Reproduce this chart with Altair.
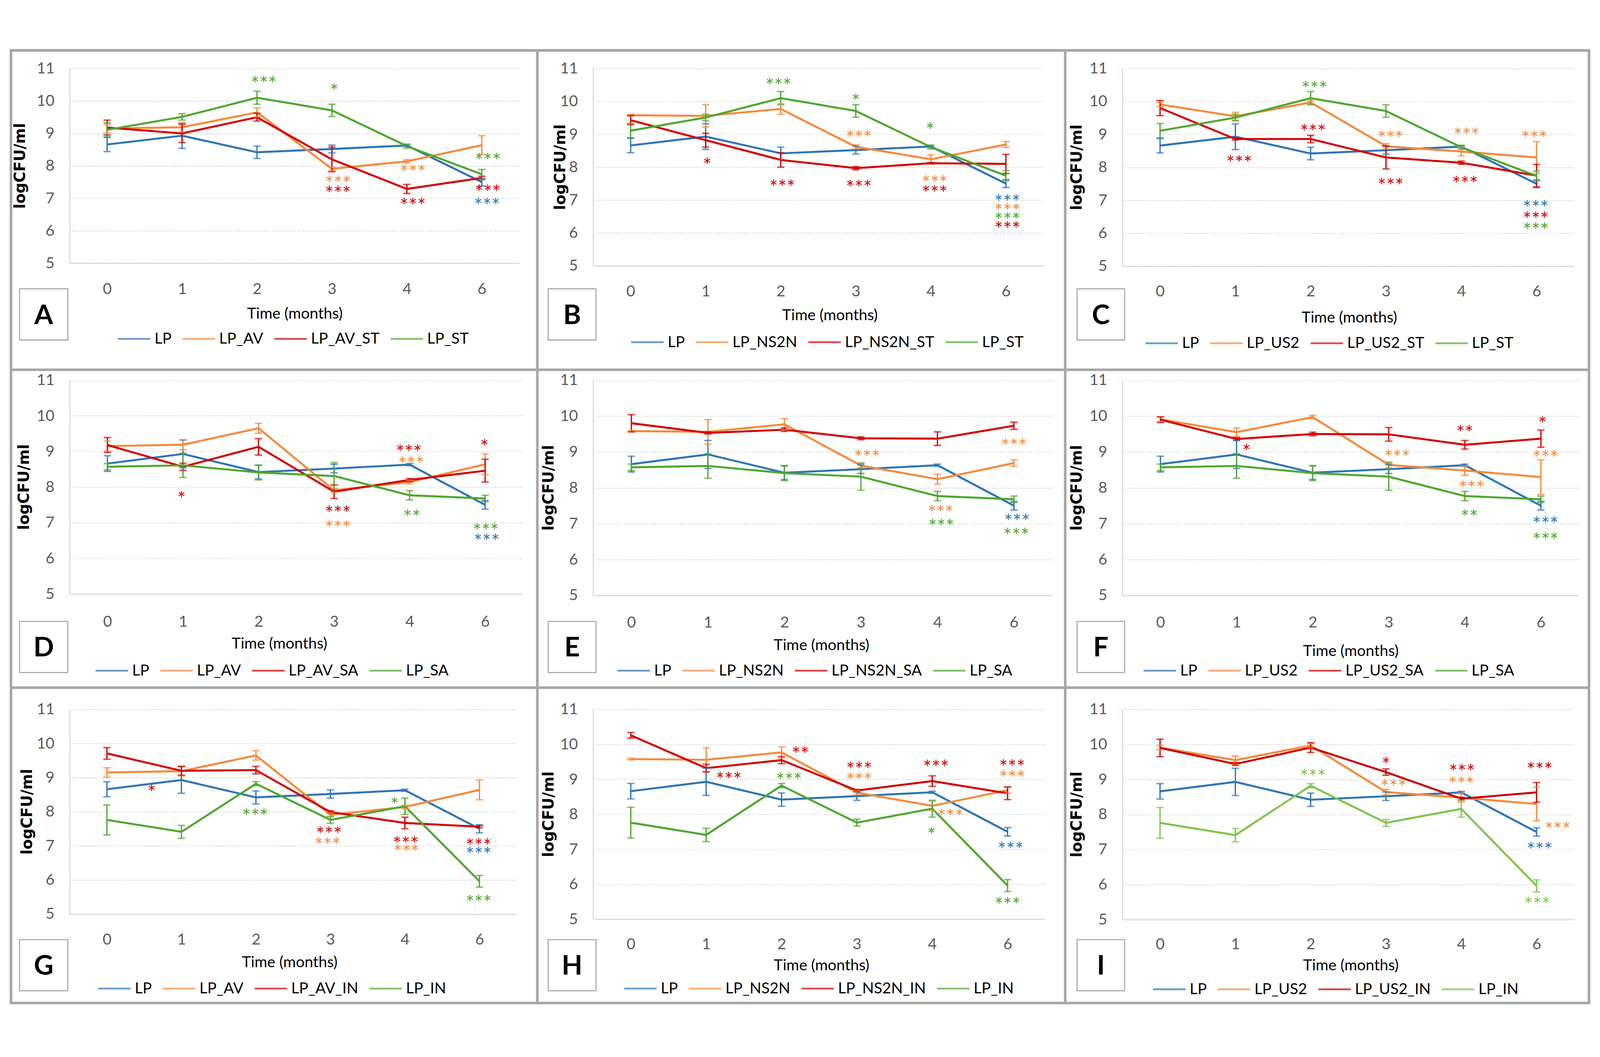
import json
import altair as alt
import pandas as pd

months = ["0", "1", "2", "3", "4", "6"]

# ---- series means (logCFU/ml) and error bar half-widths ----
LP = [8.66, 8.93, 8.42, 8.52, 8.63, 7.50]
LP_err = [0.22, 0.39, 0.19, 0.12, 0.03, 0.12]
LP_ST = [9.11, 9.51, 10.10, 9.71, 8.61, 7.74]
LP_ST_err = [0.22, 0.10, 0.20, 0.19, 0.06, 0.15]
LP_AV = [9.15, 9.19, 9.65, 7.91, 8.14, 8.64]
LP_AV_err = [0.14, 0.14, 0.14, 0.05, 0.05, 0.29]
LP_AV_ST = [9.18, 9.00, 9.50, 8.20, 7.29, 7.63]
LP_AV_ST_err = [0.23, 0.28, 0.12, 0.38, 0.14, 0.05]
LP_NS2N = [9.58, 9.56, 9.77, 8.62, 8.24, 8.69]
LP_NS2N_err = [0.02, 0.34, 0.16, 0.06, 0.14, 0.09]
LP_NS2N_ST = [9.43, 8.82, 8.22, 7.97, 8.12, 8.10]
LP_NS2N_ST_err = [0.14, 0.21, 0.22, 0.05, 0.02, 0.29]
LP_US2 = [9.91, 9.55, 9.97, 8.64, 8.48, 8.30]
LP_US2_err = [0.06, 0.12, 0.05, 0.08, 0.13, 0.48]
LP_US2_ST = [9.80, 8.86, 8.86, 8.30, 8.14, 7.75]
LP_US2_ST_err = [0.23, 0.03, 0.11, 0.35, 0.05, 0.34]
LP_SA = [8.57, 8.61, 8.41, 8.31, 7.77, 7.68]
LP_SA_err = [0.09, 0.34, 0.21, 0.38, 0.13, 0.09]
LP_AV_SA = [9.18, 8.57, 9.13, 7.87, 8.20, 8.46]
LP_AV_SA_err = [0.21, 0.10, 0.23, 0.19, 0.04, 0.32]
LP_NS2N_SA = [9.80, 9.53, 9.62, 9.38, 9.37, 9.73]
LP_NS2N_SA_err = [0.24, 0.03, 0.05, 0.04, 0.19, 0.10]
LP_US2_SA = [9.90, 9.36, 9.50, 9.49, 9.20, 9.37]
LP_US2_SA_err = [0.08, 0.04, 0.05, 0.19, 0.12, 0.24]
LP_IN = [7.76, 7.41, 8.82, 7.76, 8.16, 5.96]
LP_IN_err = [0.44, 0.19, 0.06, 0.10, 0.24, 0.17]
LP_AV_IN = [9.71, 9.20, 9.22, 7.99, 7.67, 7.56]
LP_AV_IN_err = [0.17, 0.13, 0.11, 0.04, 0.17, 0.03]
LP_NS2N_IN = [10.26, 9.32, 9.55, 8.68, 8.95, 8.60]
LP_NS2N_IN_err = [0.08, 0.11, 0.10, 0.03, 0.15, 0.18]
LP_US2_IN = [9.90, 9.44, 9.91, 9.21, 8.45, 8.63]
LP_US2_IN_err = [0.25, 0.04, 0.14, 0.09, 0.04, 0.28]

values = {
    "LP": (LP, LP_err), "LP_ST": (LP_ST, LP_ST_err), "LP_AV": (LP_AV, LP_AV_err),
    "LP_AV_ST": (LP_AV_ST, LP_AV_ST_err), "LP_NS2N": (LP_NS2N, LP_NS2N_err),
    "LP_NS2N_ST": (LP_NS2N_ST, LP_NS2N_ST_err), "LP_US2": (LP_US2, LP_US2_err),
    "LP_US2_ST": (LP_US2_ST, LP_US2_ST_err), "LP_SA": (LP_SA, LP_SA_err),
    "LP_AV_SA": (LP_AV_SA, LP_AV_SA_err), "LP_NS2N_SA": (LP_NS2N_SA, LP_NS2N_SA_err),
    "LP_US2_SA": (LP_US2_SA, LP_US2_SA_err), "LP_IN": (LP_IN, LP_IN_err),
    "LP_AV_IN": (LP_AV_IN, LP_AV_IN_err), "LP_NS2N_IN": (LP_NS2N_IN, LP_NS2N_IN_err),
    "LP_US2_IN": (LP_US2_IN, LP_US2_IN_err),
}

letters = ["A", "B", "C", "D", "E", "F", "G", "H", "I"]
panel_series = {
    "A": ["LP", "LP_AV", "LP_AV_ST", "LP_ST"],
    "B": ["LP", "LP_NS2N", "LP_NS2N_ST", "LP_ST"],
    "C": ["LP", "LP_US2", "LP_US2_ST", "LP_ST"],
    "D": ["LP", "LP_AV", "LP_AV_SA", "LP_SA"],
    "E": ["LP", "LP_NS2N", "LP_NS2N_SA", "LP_SA"],
    "F": ["LP", "LP_US2", "LP_US2_SA", "LP_SA"],
    "G": ["LP", "LP_AV", "LP_AV_IN", "LP_IN"],
    "H": ["LP", "LP_NS2N", "LP_NS2N_IN", "LP_IN"],
    "I": ["LP", "LP_US2", "LP_US2_IN", "LP_IN"],
}
x_title = "Time (months)"
y_title = "logCFU/ml"

# significance marks: (text, series index in panel, x position index, y value)
annotations = {
    "A": [("***", 3, 2.09, 10.68), ("*", 3, 3.03, 10.45), ("***", 1, 3.08, 7.61),
          ("***", 2, 3.08, 7.30), ("***", 1, 4.08, 7.95), ("***", 2, 4.08, 6.93),
          ("***", 3, 5.08, 8.31), ("***", 2, 5.08, 7.33), ("***", 0, 5.07, 6.93)],
    "B": [("***", 3, 1.97, 10.62), ("*", 3, 3.00, 10.15), ("*", 3, 3.99, 9.27),
          ("*", 2, 1.02, 8.20), ("***", 1, 3.04, 9.03), ("***", 2, 2.02, 7.54),
          ("***", 2, 3.04, 7.52), ("***", 1, 4.05, 7.67), ("***", 2, 4.05, 7.36),
          ("***", 0, 5.02, 7.09), ("***", 1, 5.02, 6.81), ("***", 3, 5.02, 6.54),
          ("***", 2, 5.02, 6.26)],
    "C": [("***", 3, 2.05, 10.53), ("***", 2, 1.05, 8.28), ("***", 2, 2.03, 9.23),
          ("***", 1, 3.06, 9.03), ("***", 2, 3.06, 7.59), ("***", 1, 4.07, 9.12),
          ("***", 2, 4.05, 7.65), ("***", 1, 4.97, 9.03), ("***", 0, 4.99, 6.92),
          ("***", 2, 4.99, 6.57), ("***", 3, 4.99, 6.24)],
    "D": [("*", 2, 0.98, 7.80), ("***", 2, 3.05, 7.40), ("***", 1, 3.05, 6.98),
          ("***", 2, 3.99, 9.11), ("***", 1, 4.02, 8.78), ("**", 3, 4.03, 7.29),
          ("*", 2, 4.99, 9.26), ("***", 3, 5.01, 6.91), ("***", 0, 5.02, 6.61)],
    "E": [("***", 1, 3.08, 8.98), ("***", 1, 4.04, 7.43), ("***", 3, 4.05, 7.05),
          ("***", 1, 5.00, 9.30), ("***", 0, 5.04, 7.20), ("***", 3, 5.03, 6.80)],
    "F": [("*", 2, 1.13, 9.14), ("***", 1, 3.11, 8.98), ("**", 2, 4.00, 9.67),
          ("***", 1, 4.09, 8.12), ("**", 3, 4.06, 7.32), ("*", 2, 5.02, 9.92),
          ("***", 1, 5.06, 8.97), ("***", 0, 5.06, 7.12), ("***", 3, 5.06, 6.67)],
    "G": [("*", 2, 0.60, 8.71), ("***", 3, 1.99, 8.01), ("***", 2, 2.98, 7.48),
          ("***", 1, 2.96, 7.16), ("*", 3, 3.86, 8.34), ("***", 2, 4.01, 7.19),
          ("***", 1, 4.02, 6.95), ("***", 2, 4.99, 7.14), ("***", 0, 4.99, 6.89),
          ("***", 3, 4.99, 5.48)],
    "H": [("**", 2, 2.25, 9.86), ("***", 2, 1.30, 9.13), ("***", 3, 2.10, 9.11),
          ("***", 2, 3.03, 9.42), ("***", 1, 3.03, 9.11), ("***", 2, 4.05, 9.48),
          ("***", 1, 4.24, 8.07), ("*", 3, 3.99, 7.54), ("***", 2, 5.06, 9.49),
          ("***", 1, 5.06, 9.17), ("***", 0, 5.04, 7.13), ("***", 3, 5.00, 5.55)],
    "I": [("***", 3, 2.03, 9.21), ("*", 2, 3.00, 9.56), ("***", 1, 3.10, 8.92),
          ("***", 2, 4.01, 9.36), ("***", 1, 4.00, 9.00), ("***", 2, 5.04, 9.41),
          ("***", 1, 5.28, 7.71), ("***", 0, 5.04, 7.13), ("***", 3, 5.01, 5.56)],
}

# ---- styling ----
BLUE, ORANGE, RED, GREEN, LGREEN = "#2e75b6", "#f7893a", "#d40000", "#4ea72e", "#7cc44e"
panel_colors = {k: [BLUE, ORANGE, RED, GREEN] for k in letters}
panel_colors["I"] = [BLUE, ORANGE, "#c80000", LGREEN]
BORDER = "#a6a6a6"
BT = 7
FONT = "Lato"
SYM = 36
SWATCH_PATH = "M-1,0H3.94"

# ---- layout in page pixels (absolute), converted to each panel's plot origin ----
COL_X = [190, 1622, 3070]
ROW_Y = [95, 948, 1849]
SP_COL, SP_ROW = 192, 312
CELL_X = [(26, 1466), (1466, 2910), (2910, 4350)]
CELL_Y = [(42, 916), (916, 1786), (1786, 2656)]
PAGE_MARGIN = 8
SVG_W, SVG_H = 4360, 2680
geo = {
    "A": dict(W=1230, H=533, xl=696, yt=56, xt=(806, 766), lg=(319, 835), box=(53, 185, 698, 838)),
    "B": dict(W=1232, H=540, xl=702, yt=1534, xt=(2270, 771), lg=(1723, 844), box=(1499, 1630, 698, 838)),
    "C": dict(W=1236, H=541, xl=702, yt=2947, xt=(3691, 777), lg=(3130, 847), box=(2946, 3076, 698, 838)),
    "D": dict(W=1240, H=585, xl=1606, yt=66, xt=(764, 1670), lg=(258, 1743), box=(53, 185, 1608, 1748)),
    "E": dict(W=1256, H=589, xl=1608, yt=1502, xt=(2247, 1674), lg=(1686, 1743), box=(1499, 1630, 1608, 1748)),
    "F": dict(W=1249, H=589, xl=1608, yt=2947, xt=(3695, 1690), lg=(3125, 1743), box=(2946, 3076, 1608, 1748)),
    "G": dict(W=1223, H=560, xl=2476, yt=75, xt=(792, 2541), lg=(265, 2613), box=(53, 185, 2479, 2619)),
    "H": dict(W=1237, H=574, xl=2489, yt=1502, xt=(2247, 2550), lg=(1704, 2613), box=(1499, 1630, 2479, 2619)),
    "I": dict(W=1236, H=575, xl=2489, yt=2947, xt=(3695, 2550), lg=(3151, 2615), box=(2946, 3076, 2479, 2619)),
}

one = pd.DataFrame({"k": [0]})


def deco_rect(x1, x2, y1, y2, **kw):
    return alt.Chart(one).mark_rect(**kw).encode(
        x=alt.value(x1), x2=alt.value(x2), y=alt.value(y1), y2=alt.value(y2))


def label_text(txt, x, y, **kw):
    return alt.Chart(one).mark_text(**kw).encode(
        x=alt.value(x), y=alt.value(y), text=alt.value(txt))


def panel(pos, key):
    g = geo[key]
    r, c = divmod(pos, 3)
    ox, oy = COL_X[c], ROW_Y[r]
    W, H = g["W"], g["H"]
    names = panel_series[key]
    cols = panel_colors[key]
    cscale = alt.Scale(domain=names, range=cols)
    xs = alt.Scale(domain=[-0.5, 5.5], nice=False, zero=False)
    ys = alt.Scale(domain=[5, 11], nice=False, zero=False)

    rows = []
    for si, s in enumerate(names):
        v, e = values[s]
        for i in range(6):
            rows.append(dict(series=s, hex=cols[si], idx=i, value=v[i],
                             lo=v[i] - e[i], hi=v[i] + e[i]))
    df = pd.DataFrame(rows)
    ann = pd.DataFrame([dict(txt=t, hex=cols[si], px=x, py=y) for t, si, x, y in annotations[key]])

    x_axis = alt.Axis(values=list(range(6)), labelExpr=json.dumps(months) + "[datum.value]",
                      grid=False, ticks=False, domainColor="#d9d9d9", domainWidth=3,
                      labelPadding=g["xl"] - (oy + H) - 17, labelFont=FONT, labelFontSize=42,
                      labelColor="#595959", labelFlush=False, labelOverlap=False, title=None)
    y_axis = alt.Axis(values=[5, 6, 7, 8, 9, 10, 11], grid=True, gridColor="#cfcfcf",
                      gridDash=[3, 4], gridWidth=2.5, ticks=False, domainColor="#d9d9d9",
                      domainWidth=3, labelPadding=42, labelFont=FONT, labelFontSize=42,
                      labelColor="#595959", labelFlush=False, labelOverlap=False, title=None)
    legend = alt.Legend(orient="none", legendX=g["lg"][0] - ox, legendY=g["lg"][1] - oy - 21,
                        direction="horizontal", columns=4, title=None, symbolType=SWATCH_PATH,
                        symbolStrokeWidth=5, symbolSize=SYM * SYM, labelFont=FONT,
                        labelFontSize=42, labelColor="black", labelLimit=0,
                        columnPadding=20, labelOffset=61, padding=0)

    base = alt.Chart(df)
    direct = alt.Color("hex:N", scale=None)
    rules = base.mark_rule(strokeWidth=3.5).encode(
        x=alt.X("idx:Q", scale=xs, axis=x_axis), y=alt.Y("lo:Q", scale=ys, axis=y_axis),
        y2="hi:Q", color=direct)
    tick_lo = base.mark_tick(orient="horizontal", size=20, thickness=4).encode(
        x=alt.X("idx:Q", scale=xs, axis=x_axis), y=alt.Y("lo:Q", scale=ys, axis=y_axis),
        color=direct)
    tick_hi = base.mark_tick(orient="horizontal", size=20, thickness=4).encode(
        x=alt.X("idx:Q", scale=xs, axis=x_axis), y=alt.Y("hi:Q", scale=ys, axis=y_axis),
        color=direct)
    lines = base.mark_line(strokeWidth=5.5).encode(
        x=alt.X("idx:Q", scale=xs, axis=x_axis), y=alt.Y("value:Q", scale=ys, axis=y_axis),
        color=alt.Color("series:N", scale=cscale, legend=legend))
    stars = alt.Chart(ann).mark_text(font=FONT, fontSize=56, dy=17, align="center",
                                      baseline="middle").encode(
        x=alt.X("px:Q", scale=xs, axis=x_axis), y=alt.Y("py:Q", scale=ys, axis=y_axis),
        text="txt:N", color=direct)

    cl, cr = CELL_X[c][0] - ox, CELL_X[c][1] - ox
    ct, cb = CELL_Y[r][0] - oy, CELL_Y[r][1] - oy
    layers = [lines, rules, tick_lo, tick_hi, stars]
    layers.append(label_text(x_title, g["xt"][0] - ox, g["xt"][1] - oy, font=FONT, fontSize=42,
                             color="black", align="center", baseline="middle"))
    layers.append(label_text(y_title, g["yt"] - ox, H / 2, font="DejaVu Sans", fontSize=41,
                             fontWeight="bold", color="black", align="center",
                             baseline="middle", angle=270))
    bx1, bx2, by1, by2 = g["box"][0] - ox, g["box"][1] - ox, g["box"][2] - oy, g["box"][3] - oy
    layers.append(deco_rect(bx1, bx2, by1, by2, fill="white", stroke="#a9a9a9", strokeWidth=3))
    layers.append(label_text(key, (bx1 + bx2) / 2, (by1 + by2) / 2, font=FONT, fontSize=74,
                             fontWeight="bold", color="black", align="center",
                             baseline="middle", dy=4))
    layers.append(deco_rect(cl, cr, ct, ct + BT, fill=BORDER))
    layers.append(deco_rect(cl, cl + BT, ct, cb, fill=BORDER))
    if c == 2:
        layers.append(deco_rect(cr - BT, cr, ct, cb, fill=BORDER))
    if r == 2:
        layers.append(deco_rect(cl, cr, cb - BT, cb, fill=BORDER))
    return alt.layer(*layers).properties(width=W, height=H)


charts = [panel(i, k) for i, k in enumerate(letters)]
# fixed-size canvas: the first plot area's origin sits exactly at the padding offset
pad_left = COL_X[0] - PAGE_MARGIN
pad_top = ROW_Y[0] - PAGE_MARGIN
chart = alt.concat(*charts, columns=3, spacing={"row": SP_ROW, "column": SP_COL},
                   align="each", bounds="flush").properties(
    autosize=alt.AutoSizeParams(type="none"),
    padding={"left": pad_left, "top": pad_top,
             "right": SVG_W - pad_left, "bottom": SVG_H - pad_top},
    background="white",
).resolve_scale(color="independent").resolve_legend(color="independent").configure_view(strokeWidth=0)

chart.save("out.html", embed_options={"renderer": "svg", "actions": False})
